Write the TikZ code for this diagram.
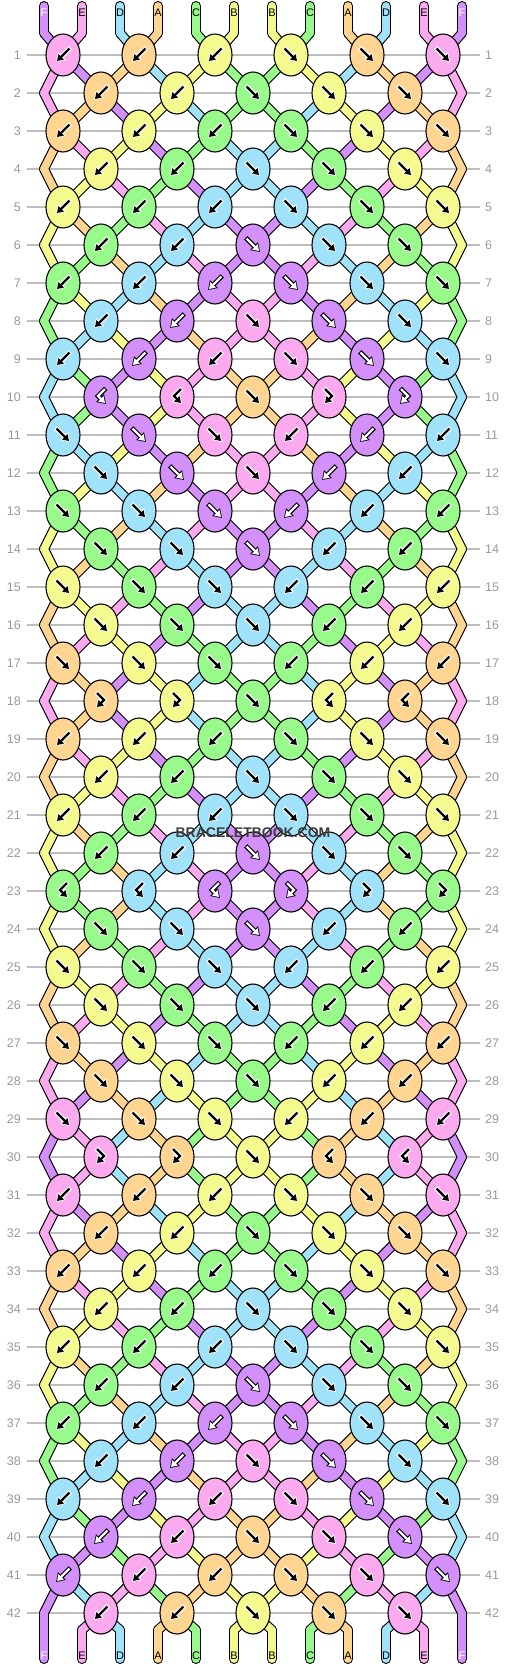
\documentclass[tikz,border=0pt]{standalone}
\usepackage{fontspec}
\setmainfont{Liberation Sans}
\usetikzlibrary{arrows.meta,shapes.geometric}

\definecolor{thrA}{HTML}{FFD591}
\definecolor{thrB}{HTML}{F5FA8F}
\definecolor{thrC}{HTML}{98FA8A}
\definecolor{thrD}{HTML}{A0E2FA}
\definecolor{thrE}{HTML}{FBAAF0}
\definecolor{thrF}{HTML}{D490FA}
\colorlet{inkA}{black}\colorlet{inkB}{black}\colorlet{inkC}{black}
\colorlet{inkD}{black}\colorlet{inkE}{black}\colorlet{inkF}{white}
\colorlet{haloA}{white}\colorlet{haloB}{white}\colorlet{haloC}{white}
\colorlet{haloD}{white}\colorlet{haloE}{white}\colorlet{haloF}{black}
\definecolor{rulegrey}{HTML}{BEBEBE}
\definecolor{numgrey}{HTML}{999999}
\definecolor{markgrey}{HTML}{3C3C3C}

% thread order at the top, and after every row
\def\toprow{F,E,D,A,C,B,B,C,A,D,E,F}
\def\threadrows{%
{F,E,D,A,C,B,B,C,A,D,E,F},{E,F,A,D,B,C,C,B,D,A,F,E},{E,A,F,B,D,C,C,D,B,F,A,E},%
{A,E,B,F,C,D,D,C,F,B,E,A},{A,B,E,C,F,D,D,F,C,E,B,A},{B,A,C,E,D,F,F,D,E,C,A,B},%
{B,C,A,D,E,F,F,E,D,A,C,B},{C,B,D,A,F,E,E,F,A,D,B,C},{C,D,B,F,A,E,E,A,F,B,D,C},%
{D,C,F,B,E,A,A,E,B,F,C,D},{D,C,F,B,E,A,A,E,B,F,C,D},{C,D,B,F,A,E,E,A,F,B,D,C},%
{C,B,D,A,F,E,E,F,A,D,B,C},{B,C,A,D,E,F,F,E,D,A,C,B},{B,A,C,E,D,F,F,D,E,C,A,B},%
{A,B,E,C,F,D,D,F,C,E,B,A},{A,E,B,F,C,D,D,C,F,B,E,A},{E,A,F,B,D,C,C,D,B,F,A,E},%
{E,A,F,B,D,C,C,D,B,F,A,E},{A,E,B,F,C,D,D,C,F,B,E,A},{A,B,E,C,F,D,D,F,C,E,B,A},%
{B,A,C,E,D,F,F,D,E,C,A,B},{B,C,A,D,E,F,F,E,D,A,C,B},{B,C,A,D,E,F,F,E,D,A,C,B},%
{B,A,C,E,D,F,F,D,E,C,A,B},{A,B,E,C,F,D,D,F,C,E,B,A},{A,E,B,F,C,D,D,C,F,B,E,A},%
{E,A,F,B,D,C,C,D,B,F,A,E},{E,F,A,D,B,C,C,B,D,A,F,E},{F,E,D,A,C,B,B,C,A,D,E,F},%
{F,E,D,A,C,B,B,C,A,D,E,F},{E,F,A,D,B,C,C,B,D,A,F,E},{E,A,F,B,D,C,C,D,B,F,A,E},%
{A,E,B,F,C,D,D,C,F,B,E,A},{A,B,E,C,F,D,D,F,C,E,B,A},{B,A,C,E,D,F,F,D,E,C,A,B},%
{B,C,A,D,E,F,F,E,D,A,C,B},{C,B,D,A,F,E,E,F,A,D,B,C},{C,D,B,F,A,E,E,A,F,B,D,C},%
{D,C,F,B,E,A,A,E,B,F,C,D},{D,F,C,E,B,A,A,B,E,C,F,D},{F,D,E,C,A,B,B,A,C,E,D,F},%
{F,E,D,A,C,B,B,C,A,D,E,F}}

% knots: colour/kind, b = backward, f = forward, bf/fb = hooked
\def\knotrows{%
{E/b,A/b,B/b,B/f,A/f,E/f},{A/b,B/b,C/f,B/f,A/f},%
{A/b,B/b,C/b,C/f,B/f,A/f},{B/b,C/b,D/f,C/f,B/f},%
{B/b,C/b,D/b,D/f,C/f,B/f},{C/b,D/b,F/f,D/f,C/f},%
{C/b,D/b,F/b,F/f,D/f,C/f},{D/b,F/b,E/f,F/f,D/f},%
{D/b,F/b,E/b,E/f,F/f,D/f},{F/bf,E/bf,A/f,E/fb,F/fb},%
{D/f,F/f,E/f,E/b,F/b,D/b},{D/f,F/f,E/f,F/b,D/b},%
{C/f,D/f,F/f,F/b,D/b,C/b},{C/f,D/f,F/f,D/b,C/b},%
{B/f,C/f,D/f,D/b,C/b,B/b},{B/f,C/f,D/f,C/b,B/b},%
{A/f,B/f,C/f,C/b,B/b,A/b},{A/fb,B/fb,C/f,B/bf,A/bf},%
{A/b,B/b,C/b,C/f,B/f,A/f},{B/b,C/b,D/f,C/f,B/f},%
{B/b,C/b,D/b,D/f,C/f,B/f},{C/b,D/b,F/f,D/f,C/f},%
{C/bf,D/bf,F/bf,F/fb,D/fb,C/fb},{C/f,D/f,F/f,D/b,C/b},%
{B/f,C/f,D/f,D/b,C/b,B/b},{B/f,C/f,D/f,C/b,B/b},%
{A/f,B/f,C/f,C/b,B/b,A/b},{A/f,B/f,C/f,B/b,A/b},%
{E/f,A/f,B/f,B/b,A/b,E/b},{E/fb,A/fb,B/f,A/bf,E/bf},%
{E/b,A/b,B/b,B/f,A/f,E/f},{A/b,B/b,C/f,B/f,A/f},%
{A/b,B/b,C/b,C/f,B/f,A/f},{B/b,C/b,D/f,C/f,B/f},%
{B/b,C/b,D/b,D/f,C/f,B/f},{C/b,D/b,F/f,D/f,C/f},%
{C/b,D/b,F/b,F/f,D/f,C/f},{D/b,F/b,E/f,F/f,D/f},%
{D/b,F/b,E/b,E/f,F/f,D/f},{F/b,E/b,A/f,E/f,F/f},%
{F/b,E/b,A/b,A/f,E/f,F/f},{E/b,A/b,B/f,A/f,E/f}}

\newcommand\threadpass[2]{%
  \foreach \col [count=\pos] in \toprow {\draw[#1, draw=#2] (top\pos) -- (t0-\pos);}
  \foreach \st [count=\row from 0] in \threadrows {
    \pgfmathtruncatemacro\nxt{\row+1}
    \foreach \col [count=\pos] in \st {\draw[#1, draw=#2] (t\row-\pos) -- (t\nxt-\pos);}
  }
  \foreach \col [count=\pos] in \toprow {\draw[#1, draw=#2] (t43-\pos) -- (bot\pos);}
}

\begin{document}
\begin{tikzpicture}%
    [x=1pt, y=-1pt,
    knot/.style={ellipse, draw=black, line width=1.1pt, minimum width=34pt,
      minimum height=42pt, inner sep=0pt},
    thread edge/.style={line width=10pt, line cap=round},
    thread core/.style={line width=7.8pt, line cap=round},
    rowrule/.style={draw=rulegrey, line width=1.2pt},
    rownum/.style={text=numgrey, font=\fontsize{12.5}{14}\selectfont, inner sep=0pt},
    endlabel/.style={font=\fontsize{11}{12}\selectfont, inner sep=0pt},
    halo/.style={line width=4.6pt, shorten >=-1.5pt, shorten <=-1pt,
      -{Triangle[length=8.5pt,width=10.5pt]}},
    ink/.style={line width=2.3pt, -{Triangle[length=6pt,width=7.5pt]}},
    glyph b/.style={insert path={(6.5,-6.5) -- (-6,6)}},
    glyph f/.style={insert path={(-6.5,-6.5) -- (6,6)}},
    glyph fb/.style={insert path={(-4,-8) -- (3,-1) -- (-4,6)}},
    glyph bf/.style={insert path={(4,-8) -- (-3,-1) -- (4,6)}}
    ]
    \useasboundingbox (0,0) rectangle (506,1668);

    % row numbers and rules
    \foreach \row in {1,...,42}{
      \pgfmathsetmacro\ry{55+38*(\row-1)}
      \node[rownum, anchor=east] (nl\row) at (21,\ry) {\row};
      \node[rownum, anchor=west] (nr\row) at (485,\ry) {\row};
      \draw[rowrule] ([xshift=6pt]nl\row.east) -- ([xshift=-5pt]nr\row.west);
    }

    % thread points
    \foreach \col [count=\pos] in \toprow {
      \coordinate (top\pos) at ({44+38*(\pos-1)},6);
      \coordinate (bot\pos) at ({44+38*(\pos-1)},1659);
    }
    \foreach \row in {0,...,43}{
      \pgfmathsetmacro\ty{(\row==0) ? 33 : ((\row==43) ? 1630 : 55+38*(\row-1))}
      \foreach \pos in {1,...,12}{
        \pgfmathsetmacro\tx{44+38*(\pos-1)+((\row==0 || \row==43) ? 0 :
          (isodd(\row) ? (isodd(\pos) ? 19 : -19) :
          ((\pos==1 || \pos==12) ? 0 : (iseven(\pos) ? 19 : -19))))}
        \coordinate (t\row-\pos) at (\tx,\ty);
      }
    }

    % threads
    \threadpass{thread edge}{black}
    \threadpass{thread core}{thr\col}

    % knots
    \foreach \kr [count=\row] in \knotrows {
      \pgfmathsetmacro\ky{55+38*(\row-1)}
      \foreach \col/\kind [count=\idx] in \kr {
        \pgfmathsetmacro\kx{(isodd(\row) ? 63 : 101)+76*(\idx-1)}
        \node[knot, fill=thr\col] (k\row-\idx) at (\kx,\ky) {};
        \draw[halo, draw=halo\col, shift={(\kx,\ky)}, glyph \kind];
        \draw[ink, draw=ink\col, shift={(\kx,\ky)}, glyph \kind];
      }
    }

    % thread names
    \foreach \col [count=\pos] in \toprow {
      \node[endlabel, text=ink\col] (lt\pos) at ({44+38*(\pos-1)},13) {\col};
      \node[endlabel, text=ink\col] (lb\pos) at ({44+38*(\pos-1)},1656) {\col};
    }

    \node[font=\bfseries\fontsize{14}{16}\selectfont, text=markgrey] (mark) at (253,833) {BRACELETBOOK.COM};
\end{tikzpicture}
\end{document}
